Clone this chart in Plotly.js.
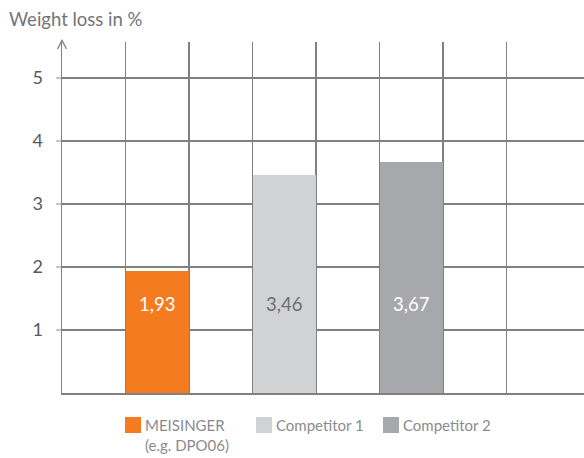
<!DOCTYPE html>
<html>
<head>
<meta charset="utf-8">
<script src="https://cdn.plot.ly/plotly-3.0.1.min.js"></script>
<style>html,body{margin:0;padding:0;background:#fff;}#chart{width:584px;height:458px;}</style>
</head>
<body>
<div id="chart"></div>
<script>
// ---- data ----
const categories = ['MEISINGER', 'Competitor 1', 'Competitor 2'];
const legendLabels = ['MEISINGER<br>(e.g. DPO06)', 'Competitor 1', 'Competitor 2'];
const values = [1.93, 3.46, 3.67];
const valueLabels = ['1,93', '3,46', '3,67'];
const barColors = ['#F47B20', '#D1D2D4', '#A7A8AB'];
const labelColors = ['#ffffff', '#6d6e71', '#ffffff'];
const yTicks = [1, 2, 3, 4, 5];
const yTickText = ['1', '2', '3', '4', '5'];
const yTitle = 'Weight loss in %';

// category slots: a blank slot before each bar and one after the last
const slots = [];
categories.forEach((c, i) => { slots.push('gap' + i); slots.push(c); });
slots.push('gap' + categories.length);

// pixel helpers for the plot frame
const L = 62, R = 584, T = 42, B = 393, W = 584, H = 458;
const px = p => (p - L) / (R - L);
const py = p => (B - p) / (B - T);

const font = 'Lato, "Open Sans", sans-serif';

const trace = {
  type: 'bar',
  x: categories,
  y: values,
  marker: {color: barColors, line: {width: 0}},
  hoverinfo: 'none',
  showlegend: false
};

const annotations = categories.map((c, i) => ({
  x: c, y: 1.41, xref: 'x', yref: 'y',
  text: valueLabels[i], showarrow: false,
  font: {family: font, size: 18.5, color: labelColors[i]},
  xanchor: 'center', yanchor: 'middle'
}));

annotations.push({
  x: px(7), y: py(19), xref: 'paper', yref: 'paper',
  text: yTitle, showarrow: false, xanchor: 'left', yanchor: 'middle',
  font: {family: font, size: 18.5, color: '#737477'}
});

const shapes = [];
const legendX = [125, 256, 383];
categories.forEach((c, i) => {
  shapes.push({
    type: 'rect', xref: 'paper', yref: 'paper',
    x0: px(legendX[i]), x1: px(legendX[i] + 16), y0: py(433), y1: py(417),
    fillcolor: barColors[i], line: {width: 0}
  });
  annotations.push({
    x: px(legendX[i] + 18), y: py(414), xref: 'paper', yref: 'paper',
    text: legendLabels[i], showarrow: false, xanchor: 'left', yanchor: 'top', align: 'left',
    font: {family: font, size: 15, color: '#8a8b8e'}
  });
});

// axis arrow head
shapes.push({
  type: 'path', xref: 'paper', yref: 'paper',
  path: `M${px(57.5)},${py(49)} L${px(62)},${py(40.5)} L${px(66.5)},${py(49)}`,
  line: {color: '#7f7f7f', width: 1.3}
});

const layout = {
  width: W, height: H,
  margin: {l: L, r: W - R, t: T, b: H - B, pad: 0},
  paper_bgcolor: '#fff', plot_bgcolor: '#fff',
  bargap: 0,
  showlegend: false,
  xaxis: {
    type: 'category', categoryorder: 'array', categoryarray: slots,
    range: [-0.5, 7.72], tickson: 'boundaries',
    showgrid: true, gridcolor: '#808080', gridwidth: 1.5,
    showticklabels: false, ticks: '',
    showline: true, linecolor: '#808080', linewidth: 1.5,
    zeroline: false, fixedrange: true
  },
  yaxis: {
    range: [0, (B - T) / 63],
    tickvals: yTicks, ticktext: yTickText,
    ticks: 'outside', ticklen: 5, tickcolor: '#c8c8c8', tickwidth: 1.5,
    ticklabelstandoff: 9,
    tickfont: {family: font, size: 18, color: '#58595b'},
    showgrid: true, gridcolor: '#808080', gridwidth: 1.2,
    showline: true, linecolor: '#808080', linewidth: 1.5,
    zeroline: false, fixedrange: true
  },
  annotations: annotations,
  shapes: shapes
};

Plotly.newPlot('chart', [trace], layout, {displayModeBar: false, staticPlot: true});
</script>
</body>
</html>
